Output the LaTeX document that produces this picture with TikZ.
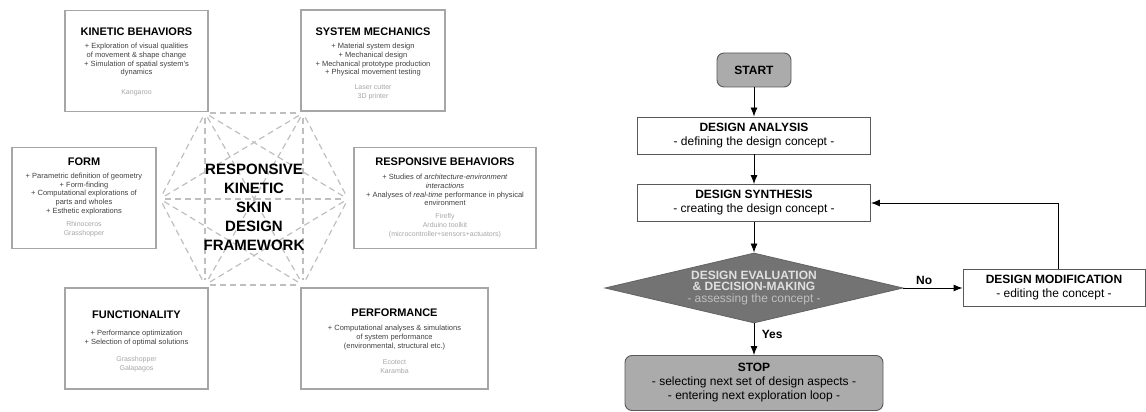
\documentclass[tikz,border=0pt]{standalone}
\usepackage{fontspec}
\setmainfont{Liberation Sans}
\usetikzlibrary{arrows.meta}
\usetikzlibrary{shapes.geometric}

\begin{document}
\begin{tikzpicture}[x=1pt,y=1pt,
    panel/.style={draw=black!35,line width=1.2pt,minimum width=#1,minimum height=101pt,inner sep=0pt},
    ptitle/.style={font=\fontsize{11}{13}\selectfont\bfseries,inner sep=0pt},
    pbody/.style={font=\fontsize{7.5}{8.7}\selectfont,text=black!75,align=center,inner sep=0pt},
    ptools/.style={font=\fontsize{7}{9}\selectfont,text=black!35,align=center,inner sep=0pt},
    link/.style={draw=black!25,line width=1.2pt,dash pattern=on 6pt off 4pt,shorten <=5pt,shorten >=5pt},
    fbox/.style={draw=black!65,line width=0.9pt,fill=white,minimum width=233pt,minimum height=37pt,align=center,font=\fontsize{12}{14}\selectfont},
    term/.style={fbox,fill=black!33,rounded corners=7pt},
    decide/.style={diamond,aspect=4.26,draw=black!60,fill=black!55,line width=0.9pt,minimum width=298pt,minimum height=70pt,inner sep=0pt,align=center,text=black!12,font=\fontsize{12}{11.5}\selectfont},
    flow/.style={-{Latex[length=9pt,width=7pt]},line width=0.9pt},
    answer/.style={font=\fontsize{12}{14}\selectfont\bfseries}
]
    \useasboundingbox (0,0) rectangle (1146,412);

    % left: framework
    \coordinate (hubTL) at (205,299);
    \coordinate (hubTR) at (303,299);
    \coordinate (hubL) at (160,213);
    \coordinate (hubR) at (348,213);
    \coordinate (hubBL) at (205,127);
    \coordinate (hubBR) at (303,127);
    \foreach \a/\b in {hubTL/hubTR,hubTL/hubL,hubTL/hubR,hubTL/hubBL,hubTL/hubBR,
                       hubTR/hubL,hubTR/hubR,hubTR/hubBL,hubTR/hubBR,
                       hubL/hubR,hubL/hubBL,hubL/hubBR,
                       hubR/hubBL,hubR/hubBR,hubBL/hubBR}
        \draw[link] (\a) -- (\b);

    \node[align=center,font=\fontsize{15}{19}\selectfont\bfseries] (frame) at (254,204.4)
        {RESPONSIVE\\KINETIC\\SKIN\\DESIGN\\FRAMEWORK};

    \node[panel=143] (kin) at (136.5,351) {};
    \node[ptitle] (kintitle) at (136.5,380) {KINETIC BEHAVIORS};
    \node[pbody] (kinbody) at (136.5,352) {+ Exploration of visual qualities\\of movement \& shape change\\+ Simulation of spatial system's\\dynamics};
    \node[ptools] (kintools) at (136.5,319) {Kangaroo};

    \node[panel=144] (sys) at (373,351.5) {};
    \node[ptitle] (systitle) at (373,380) {SYSTEM MECHANICS};
    \node[pbody] (sysbody) at (373,352) {+ Material system design\\+ Mechanical design\\+ Mechanical prototype production\\+ Physical movement testing};
    \node[ptools] (systools) at (373,319.5) {Laser cutter\\3D printer};

    \node[panel=144] (form) at (84,214) {};
    \node[ptitle] (formtitle) at (84,250) {FORM};
    \node[pbody] (formbody) at (84,218) {+ Parametric definition of geometry\\+ Form-finding\\+ Computational explorations of\\parts and wholes\\+ Esthetic explorations};
    \node[ptools] (formtools) at (84,182.5) {Rhinoceros\\Grasshopper};

    \node[panel=182] (resp) at (445,214) {};
    \node[ptitle] (resptitle) at (445,250) {RESPONSIVE BEHAVIORS};
    \node[pbody] (respbody) at (445,222) {+ Studies of \textit{architecture-environment}\\\textit{interactions}\\+ Analyses of \textit{real-time} performance in physical\\environment};
    \node[ptools] (resptools) at (445,186.5) {Firefly\\Arduino toolkit\\(microcontroller+sensors+actuators)};

    \node[panel=143] (func) at (136.5,73.5) {};
    \node[ptitle] (functitle) at (136.5,97) {FUNCTIONALITY};
    \node[pbody] (funcbody) at (136.5,74) {+ Performance optimization\\+ Selection of optimal solutions};
    \node[ptools] (functools) at (136.5,47.5) {Grasshopper\\Galapagos};

    \node[panel=187] (perf) at (394.5,73.5) {};
    \node[ptitle] (perftitle) at (394.5,99) {PERFORMANCE};
    \node[pbody] (perfbody) at (394.5,74.5) {+ Computational analyses \& simulations\\of system performance\\(environmental, structural etc.)};
    \node[ptools] (perftools) at (394.5,45.5) {Ecotect\\Karamba};

    % right: exploration loop
    \pgfmathsetmacro{\fx}{754}
    \node[term,minimum width=74pt,minimum height=34pt] (start) at (\fx,342) {\textbf{START}};
    \node[fbox] (analysis) at (\fx,276.5) {\textbf{DESIGN ANALYSIS}\\- defining the design concept -};
    \node[fbox] (synthesis) at (\fx,209) {\textbf{DESIGN SYNTHESIS}\\- creating the design concept -};
    \node[decide] (evaluation) at (\fx,124) {\textbf{DESIGN EVALUATION}\\\textbf{\& DECISION-MAKING}\\\textcolor{black!25}{- assessing the concept -}};
    \node[term,minimum width=258pt,minimum height=55pt] (stop) at (\fx,29) {\textbf{STOP}\\- selecting next set of design aspects -\\- entering next exploration loop -};
    \node[fbox,minimum width=182pt] (modification) at (1054,124) {\textbf{DESIGN MODIFICATION}\\- editing the concept -};

    \draw[flow] (start) -- (analysis);
    \draw[flow] (analysis) -- (synthesis);
    \draw[flow] (synthesis) -- (evaluation);
    \draw[flow] (evaluation) -- node[answer,right=4pt,pos=0.35] (yes) {Yes} (stop);
    \draw[flow] (evaluation) -- node[answer,above,pos=0.35] (no) {No} (modification);
    \draw[flow] ([xshift=4pt]modification.north) |- (synthesis);
\end{tikzpicture}
\end{document}
